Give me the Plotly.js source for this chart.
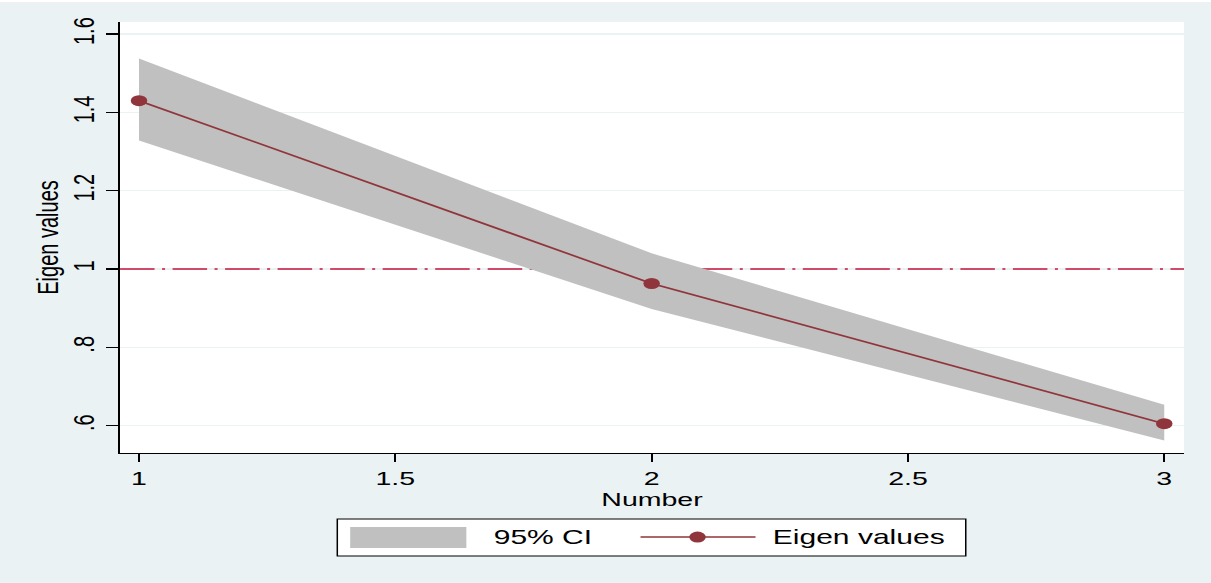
<!DOCTYPE html>
<html>
<head>
<meta charset="utf-8">
<script src="https://cdn.plot.ly/plotly-3.0.1.min.js"></script>
<style>
  html, body { margin: 0; padding: 0; background: #ffffff; overflow: hidden; width: 1211px; height: 583px; }
  #wrap { position: absolute; left: 0; top: 2px; width: 1211px; height: 581px; overflow: hidden; background: #EAF2F3; }
  #chart { width: 807px; height: 581px; transform: scaleX(1.5006); transform-origin: 0 0; }
</style>
</head>
<body>
<div id="wrap"><div id="chart"></div></div>
<script>
// ---- data ----
const number = [1, 2, 3];
const eigenValues = [1.430, 0.963, 0.605];
const ciUpper = [1.538, 1.040, 0.653];
const ciLower = [1.328, 0.898, 0.562];
const yTickVals = [0.6, 0.8, 1.0, 1.2, 1.4, 1.6];
const yTickText = ['.6', '.8', '1', '1.2', '1.4', '1.6'];
const xTickVals = [1, 1.5, 2, 2.5, 3];
const xTickText = ['1', '1.5', '2', '2.5', '3'];
const refLine = 1;
const legendLabels = ['95% CI', 'Eigen values'];

const xRange = [0.963, 3.0385];
const yRange = [0.530, 1.631];

const FONT = 'Liberation Sans, Arial, Helvetica, sans-serif';
const maroon = '#90353B';

const bandX = number.concat(number.slice().reverse());
const bandY = ciUpper.concat(ciLower.slice().reverse());

const traces = [
  {
    // reference line at eigenvalue = 1, spanning the full x range (drawn under the band)
    x: xRange, y: xRange.map(() => refLine), type: 'scatter', mode: 'lines',
    line: {color: '#C8143C', width: 1.7, dash: '23px,5px,2px,5px'},
    showlegend: false, hoverinfo: 'skip', cliponaxis: true
  },
  {
    x: bandX, y: bandY, type: 'scatter', mode: 'lines',
    fill: 'toself', fillcolor: '#C0C0C0', line: {width: 0, color: '#C0C0C0'},
    showlegend: false, hoverinfo: 'skip', name: legendLabels[0]
  },
  {
    x: number, y: eigenValues, type: 'scatter', mode: 'lines+markers',
    line: {color: maroon, width: 1.6},
    marker: {color: maroon, size: 11},
    showlegend: false, name: legendLabels[1]
  }
];

const legY = -0.195;
const layout = {
  width: 807, height: 581,
  margin: {l: 80, r: 18, t: 20, b: 130},
  paper_bgcolor: '#EAF2F3',
  plot_bgcolor: '#FFFFFF',
  showlegend: false,
  font: {family: FONT, size: 19, color: '#000000'},
  xaxis: {
    range: xRange,
    tickvals: xTickVals, ticktext: xTickText,
    showgrid: false, zeroline: false,
    showline: true, linecolor: '#000000', linewidth: 1.3,
    ticks: 'outside', ticklen: 8, tickwidth: 1.3, tickcolor: '#000000',
    tickfont: {family: FONT, size: 19, color: '#000000'},
    title: {text: 'Number', font: {family: FONT, size: 19, color: '#000000'}, standoff: 0},
    automargin: false
  },
  yaxis: {
    range: yRange,
    tickvals: yTickVals, ticktext: yTickText,
    tickangle: -90,
    showgrid: true, gridcolor: '#EAF2F3', gridwidth: 1.5,
    zeroline: false,
    showline: true, linecolor: '#000000', linewidth: 1.3,
    ticks: 'outside', ticklen: 8, tickwidth: 1.3, tickcolor: '#000000',
    tickfont: {family: FONT, size: 20, color: '#000000'},
    title: {text: 'Eigen values', font: {family: FONT, size: 20, color: '#000000'}, standoff: 0},
    automargin: false
  },
  shapes: [
    // legend box
    {type: 'rect', xref: 'paper', yref: 'paper', x0: 0.2042, x1: 0.7949, y0: -0.2390, y1: -0.1531,
     fillcolor: '#FFFFFF', line: {color: '#000000', width: 1}},
    // CI swatch
    {type: 'rect', xref: 'paper', yref: 'paper', x0: 0.2163, x1: 0.3255, y0: -0.2204, y1: -0.1717,
     fillcolor: '#C0C0C0', line: {width: 0}},
    // line sample
    {type: 'line', xref: 'paper', yref: 'paper', x0: 0.4892, x1: 0.5973, y0: legY, y1: legY,
     line: {color: maroon, width: 1.5}},
    // marker sample
    {type: 'circle', xref: 'paper', yref: 'paper', xsizemode: 'pixel', ysizemode: 'pixel',
     xanchor: 0.5428, yanchor: legY, x0: -5.5, x1: 5.5, y0: -5.5, y1: 5.5,
     fillcolor: maroon, line: {width: 0}}
  ],
  annotations: [
    {xref: 'paper', yref: 'paper', x: 0.3478, y: legY, xanchor: 'left', yanchor: 'middle',
     text: legendLabels[0], showarrow: false, font: {family: FONT, size: 20, color: '#000000'}},
    {xref: 'paper', yref: 'paper', x: 0.6112, y: legY, xanchor: 'left', yanchor: 'middle',
     text: legendLabels[1], showarrow: false, font: {family: FONT, size: 20, color: '#000000'}}
  ]
};

Plotly.newPlot('chart', traces, layout, {displayModeBar: false, staticPlot: true});
</script>
</body>
</html>
